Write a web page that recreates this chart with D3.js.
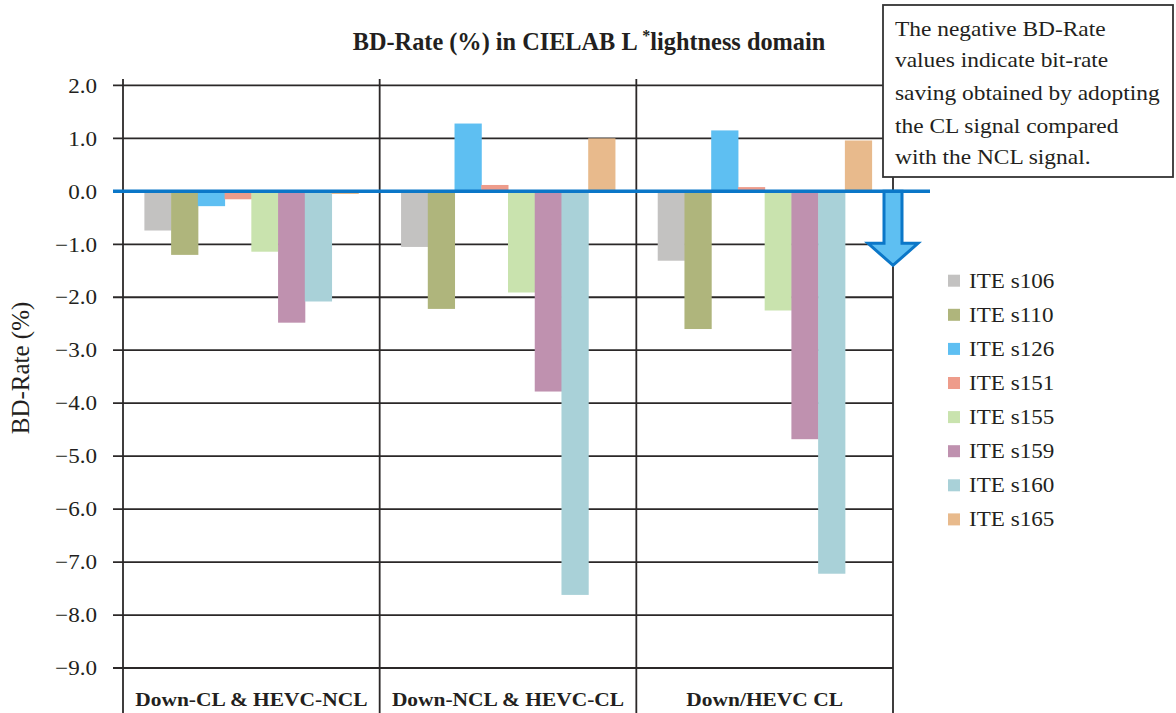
<!DOCTYPE html>
<html>
<head>
<meta charset="utf-8">
<script src="https://cdn.jsdelivr.net/npm/d3@7"></script>
<style>
  html, body { margin: 0; padding: 0; background: #fff; }
  svg { display: block; }
  text { font-family: "Liberation Serif", "Times New Roman", serif; fill: #231f20; }
</style>
</head>
<body>
<svg id="chart" width="1176" height="713"></svg>
<script>
// ---- data ----
const categories = ["Down-CL & HEVC-NCL", "Down-NCL & HEVC-CL", "Down/HEVC CL"];
const seriesNames = ["ITE s106", "ITE s110", "ITE s126", "ITE s151", "ITE s155", "ITE s159", "ITE s160", "ITE s165"];
const seriesColors = ["#c3c2c1", "#afb57c", "#5ebff2", "#ee9c8b", "#c9e3ae", "#bf91af", "#a9d1d8", "#e8ba8c"];
// one array per series, values for the three categories
const s106 = [-0.74, -1.05, -1.31];
const s110 = [-1.20, -2.22, -2.60];
const s126 = [-0.28, 1.28, 1.15];
const s151 = [-0.15, 0.12, 0.08];
const s155 = [-1.14, -1.91, -2.25];
const s159 = [-2.48, -3.78, -4.68];
const s160 = [-2.08, -7.62, -7.22];
const s165 = [-0.05, 1.00, 0.96];
const seriesValues = [s106, s110, s126, s151, s155, s159, s160, s165];
const yTicks = [2, 1, 0, -1, -2, -3, -4, -5, -6, -7, -8, -9];
const titleMain = "BD-Rate (%) in CIELAB L ";
const titleSup = "*";
const titleRest = "lightness domain";
const yLabel = "BD-Rate (%)";
const noteLines = ["The negative BD-Rate", "values indicate bit-rate", "saving obtained by adopting", "the CL signal compared", "with the NCL signal."];

// ---- layout ----
const svg = d3.select("#chart");
const plot = { left: 123, right: 893, top: 79, bottom: 668 };
const stretch = 1.1; // slightly wide lettering for labels

const y = d3.scaleLinear().domain([-9, 2]).range([668, 85.4]);
const x0 = d3.scaleBand().domain(categories).range([plot.left, plot.right]).paddingInner(0).paddingOuter(0);
const x1 = d3.scaleBand().domain(seriesNames).range([0, x0.bandwidth()]).paddingInner(0).paddingOuter(0.8);

const lineColor = "#2b2828";

// horizontal gridlines (with tick stubs left of the axis)
svg.append("g").selectAll("line").data(yTicks).join("line")
  .attr("x1", plot.left - 10).attr("x2", plot.right)
  .attr("y1", d => y(d)).attr("y2", d => y(d))
  .attr("stroke", lineColor).attr("stroke-width", 1.8);

// y axis labels
const yAxis = d3.axisLeft(y).tickValues(yTicks).tickSize(0).tickPadding(0)
  .tickFormat(d => (d < 0 ? "\u2212" : "") + Math.abs(d).toFixed(1));
const yAxisG = svg.append("g").attr("transform", `translate(${plot.left},0)`).call(yAxis);
yAxisG.select(".domain").remove();
yAxisG.selectAll("text")
  .attr("x", -26 / stretch)
  .attr("transform", `scale(${stretch},1)`)
  .style("font-family", "'Liberation Serif', serif")
  .style("font-size", "21px")
  .style("fill", "#231f20");

// bars
const groups = svg.append("g").selectAll("g").data(categories).join("g")
  .attr("transform", d => `translate(${x0(d)},0)`);
groups.selectAll("rect")
  .data((c, ci) => seriesNames.map((s, si) => ({ s, si, v: seriesValues[si][ci] })))
  .join("rect")
  .attr("x", d => x1(d.s))
  .attr("width", x1.bandwidth() + 0.5)
  .attr("y", d => Math.min(y(0), y(d.v)))
  .attr("height", d => Math.abs(y(d.v) - y(0)))
  .attr("fill", d => seriesColors[d.si]);

// vertical frame lines: left axis, group dividers, right edge
const dividers = [plot.left, ...categories.slice(1).map(c => x0(c)), plot.right];
svg.append("g").selectAll("line").data(dividers).join("line")
  .attr("x1", d => d).attr("x2", d => d)
  .attr("y1", (d, i) => i === dividers.length - 1 ? 176 : plot.top)
  .attr("y2", 713)
  .attr("stroke", lineColor).attr("stroke-width", 1.8);

// category labels
svg.append("g").selectAll("text").data(categories).join("text")
  .attr("transform", d => `translate(${x0(d) + x0.bandwidth() / 2},706) scale(${stretch},1)`)
  .attr("text-anchor", "middle")
  .style("font-size", "19.5px")
  .style("font-weight", "bold")
  .text(d => d);

// downward arrow below the zero line
const ax = 893, z = y(0);
const arrowPts = [
  [ax - 9, z], [ax + 9, z], [ax + 9, z + 52], [ax + 25, z + 52],
  [ax, z + 74], [ax - 25, z + 52], [ax - 9, z + 52]
];
svg.append("polygon")
  .attr("points", arrowPts.map(p => p.join(",")).join(" "))
  .attr("fill", "#5ebff2").attr("stroke", "#0b77c8").attr("stroke-width", 3)
  .attr("stroke-linejoin", "miter");

// zero line
svg.append("line")
  .attr("x1", plot.left - 10).attr("x2", 930)
  .attr("y1", y(0)).attr("y2", y(0))
  .attr("stroke", "#0b77c8").attr("stroke-width", 3.5);

// title
const title = svg.append("text")
  .attr("x", 589).attr("y", 50)
  .attr("text-anchor", "middle")
  .style("font-size", "24.3px").style("font-weight", "bold");
title.append("tspan").text(titleMain);
title.append("tspan").attr("dy", -9).style("font-size", "16px").text(titleSup);
title.append("tspan").attr("dy", 9).text(titleRest);

// y axis title
svg.append("text")
  .attr("transform", "translate(29,368) rotate(-90)")
  .attr("text-anchor", "middle")
  .style("font-size", "25px")
  .text(yLabel);

// note box
svg.append("rect")
  .attr("x", 883).attr("y", 5).attr("width", 290).attr("height", 172)
  .attr("fill", "#fff").attr("stroke", "#333").attr("stroke-width", 1.8);
const noteY = [36, 67, 100, 133, 164];
svg.append("g").selectAll("text").data(noteLines).join("text")
  .attr("transform", (d, i) => `translate(895,${noteY[i]}) scale(${stretch},1)`)
  .style("font-size", "21.3px")
  .text(d => d);

// legend
const legend = svg.append("g").selectAll("g").data(seriesNames).join("g")
  .attr("transform", (d, i) => `translate(948,${280.7 + i * 34.1})`);
legend.append("rect")
  .attr("x", 0).attr("y", -6).attr("width", 12).attr("height", 12)
  .attr("fill", (d, i) => seriesColors[i]);
legend.append("text")
  .attr("transform", `translate(21,7) scale(${stretch},1)`)
  .style("font-size", "21px")
  .text(d => d);
</script>
</body>
</html>
